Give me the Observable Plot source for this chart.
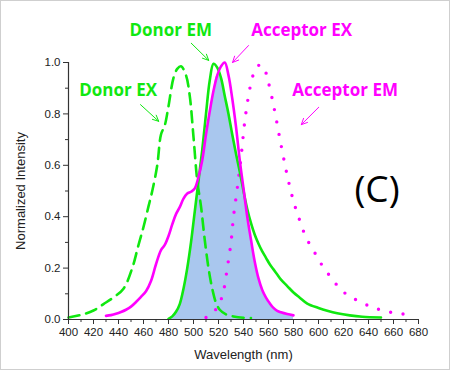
<!DOCTYPE html>
<html>
<head>
<meta charset="utf-8">
<script src="https://cdn.jsdelivr.net/npm/d3@7"></script>
<script src="https://cdn.jsdelivr.net/npm/@observablehq/plot@0.6"></script>
<style>
  html, body { margin: 0; padding: 0; background: #fff; }
  #wrap { position: relative; width: 450px; height: 370px; }
  #frame { position: absolute; left: 0; top: 0; width: 448px; height: 368px; border: 1px solid #cfcfcf; pointer-events: none; }
</style>
</head>
<body>
<div id="wrap"><div id="frame"></div></div>
<script>
// ---- data (wavelength in nm, normalized intensity) ----
const wlDonorEX = [400,410,420,428,436,444,451,456,460,464,467,471,474,477,480,484,487,490,494,497,500,503,506,509,512,515,518,521,526,532,540,546];
const donorEX   = [0.008,0.018,0.035,0.06,0.086,0.12,0.20,0.29,0.36,0.44,0.50,0.60,0.72,0.755,0.83,0.94,0.975,0.985,0.95,0.87,0.71,0.54,0.44,0.31,0.20,0.12,0.065,0.038,0.02,0.012,0.007,0.006];

// shared grid for Donor EM / Acceptor EX overlap
const wlShared = [480,483,486,489,492,495,498,501,504,507,510,513,516,519,522,525,528,531,534,537,540,543,546,549,552,555,558,561,564,567,570,575,580];

const wlDonorEMTail = [585,591,600,607,615,625,635,650];
const donorEMShared = [0.002,0.012,0.03,0.06,0.12,0.20,0.30,0.42,0.54,0.66,0.80,0.93,0.995,0.98,0.94,0.87,0.80,0.72,0.645,0.575,0.50,0.43,0.375,0.33,0.295,0.265,0.24,0.215,0.195,0.175,0.155,0.13,0.105];
const donorEMTail   = [0.085,0.062,0.045,0.034,0.024,0.016,0.011,0.008];

const wlAccEXHead = [430,434,438,442,446,450,454,458,462,466,470,474,477];
const accEXHead   = [0.014,0.017,0.022,0.029,0.038,0.05,0.068,0.088,0.11,0.15,0.215,0.27,0.29];
const accEXShared = [0.325,0.37,0.41,0.437,0.47,0.49,0.497,0.51,0.555,0.62,0.72,0.81,0.89,0.95,0.985,1.0,0.95,0.86,0.75,0.62,0.51,0.40,0.31,0.225,0.16,0.115,0.085,0.063,0.045,0.034,0.028,0.021,0.016];

const wlAccEM = [510,514,518,521,524,527,530,532,535,538,541,544,547,550,553,556,559,562,565,570,575,580,585,590,597,603,609,616,624,633,642,650,659,668,677];
const accEM   = [0.008,0.02,0.04,0.065,0.11,0.20,0.30,0.40,0.51,0.63,0.77,0.87,0.94,0.98,0.99,0.985,0.94,0.88,0.81,0.68,0.56,0.46,0.385,0.32,0.26,0.21,0.17,0.127,0.092,0.07,0.049,0.037,0.027,0.021,0.017];

// axis ticks
const xMajorTicks = d3.range(400, 681, 20);
const xMinorTicks = d3.range(410, 680, 20);
const yMajorTicks = [0, 0.2, 0.4, 0.6, 0.8, 1.0];
const yMinorTicks = [0.1, 0.3, 0.5, 0.7, 0.9];

// annotations (data coordinates)
const labelNames  = ["Donor EM", "Acceptor EX", "Donor EX", "Acceptor EM"];
const labelX      = [481.8, 586.5, 439.7, 621.3];
const labelY      = [1.126, 1.126, 0.889, 0.889];
const labelColors = ["#10e810", "#ff00ff", "#10e810", "#ff00ff"];
const arrowX1 = [498.2, 544.0, 457.6, 600.2];
const arrowY1 = [1.075, 1.066, 0.836, 0.826];
const arrowX2 = [512.2, 531.2, 472.2, 586.2];
const arrowY2 = [1.008, 1.0, 0.771, 0.758];
const panelLabel = "(C)";
const panelX = 646.8, panelY = 0.502;

// ---- build tables ----
const GREEN = "#10e810", MAGENTA = "#ff00ff", FILL = "#a9c7ee";
const dEX = wlDonorEX.map((w, i) => ({w, v: donorEX[i]}));
const dEM = wlShared.concat(wlDonorEMTail).map((w, i) => ({w, v: donorEMShared.concat(donorEMTail)[i]}));
const aEX = wlAccEXHead.concat(wlShared).map((w, i) => ({w, v: accEXHead.concat(accEXShared)[i]}));
const aEM = wlAccEM.map((w, i) => ({w, v: accEM[i]}));
const overlap = wlShared.map((w, i) => ({w, v: Math.min(donorEMShared[i], accEXShared[i])}));
const labels = labelNames.map((t, i) => ({t, x: labelX[i], y: labelY[i], c: labelColors[i]}));
const arrows = arrowX1.map((x1, i) => ({x1, y1: arrowY1[i], x2: arrowX2[i], y2: arrowY2[i], c: labelColors[i]}));

const chart = Plot.plot({
  width: 450,
  height: 370,
  marginLeft: 68,
  marginRight: 32,
  marginTop: 62,
  marginBottom: 51,
  style: {fontFamily: "Liberation Sans, Arial, sans-serif", fontSize: "11.5px", color: "#222", background: "transparent"},
  x: {domain: [400, 680]},
  y: {domain: [0, 1]},
  marks: [
    Plot.areaY(overlap, {x: "w", y: "v", fill: FILL, curve: "catmull-rom"}),
    Plot.lineY(dEX, {x: "w", y: "v", stroke: GREEN, strokeWidth: 2.6, strokeDasharray: "11 7", curve: "catmull-rom"}),
    Plot.lineY(aEM, {x: "w", y: "v", stroke: MAGENTA, strokeWidth: 3.4, strokeDasharray: "0 12.5", strokeLinecap: "round", curve: "catmull-rom"}),
    Plot.lineY(dEM, {x: "w", y: "v", stroke: GREEN, strokeWidth: 2.6, curve: "catmull-rom"}),
    Plot.lineY(aEX, {x: "w", y: "v", stroke: MAGENTA, strokeWidth: 2.6, curve: "catmull-rom"}),
    Plot.ruleX([400], {stroke: "#333", strokeWidth: 1.2}),
    Plot.ruleY([0], {stroke: "#333", strokeWidth: 1.2}),
    Plot.axisX({ticks: xMajorTicks, tickSize: 5, tickPadding: 3, tickFormat: d3.format("d"), label: "Wavelength (nm)", labelAnchor: "center", labelArrow: false, labelOffset: 39, fontSize: 11.5, stroke: "#333"}),
    Plot.axisX({ticks: xMinorTicks, tickSize: 3, tickFormat: () => "", label: null, stroke: "#333"}),
    Plot.axisY({ticks: yMajorTicks, tickSize: 5, tickPadding: 3, tickFormat: d3.format(".1f"), label: "Normalized Intensity", labelAnchor: "center", labelArrow: false, labelOffset: 53, fontSize: 11.5, stroke: "#333"}),
    Plot.axisY({ticks: yMinorTicks, tickSize: 3, tickFormat: () => "", label: null, stroke: "#333"}),
    Plot.arrow(arrows, {x1: "x1", y1: "y1", x2: "x2", y2: "y2", stroke: "c", strokeWidth: 1, headLength: 10, headAngle: 50}),
    Plot.text(labels, {x: "x", y: "y", text: "t", fill: "c", fontSize: 17, fontWeight: "bold", fontFamily: "Open Sans, sans-serif"}),
    Plot.text([panelLabel], {x: () => panelX, y: () => panelY, text: d => d, fill: "#000", fontSize: 37, fontFamily: "Open Sans, sans-serif"})
  ]
});
d3.select(chart).selectAll('g[aria-label="x-axis label"] text, g[aria-label="y-axis label"] text').style("font-size", "13px");
document.getElementById("wrap").prepend(chart);
</script>
</body>
</html>
